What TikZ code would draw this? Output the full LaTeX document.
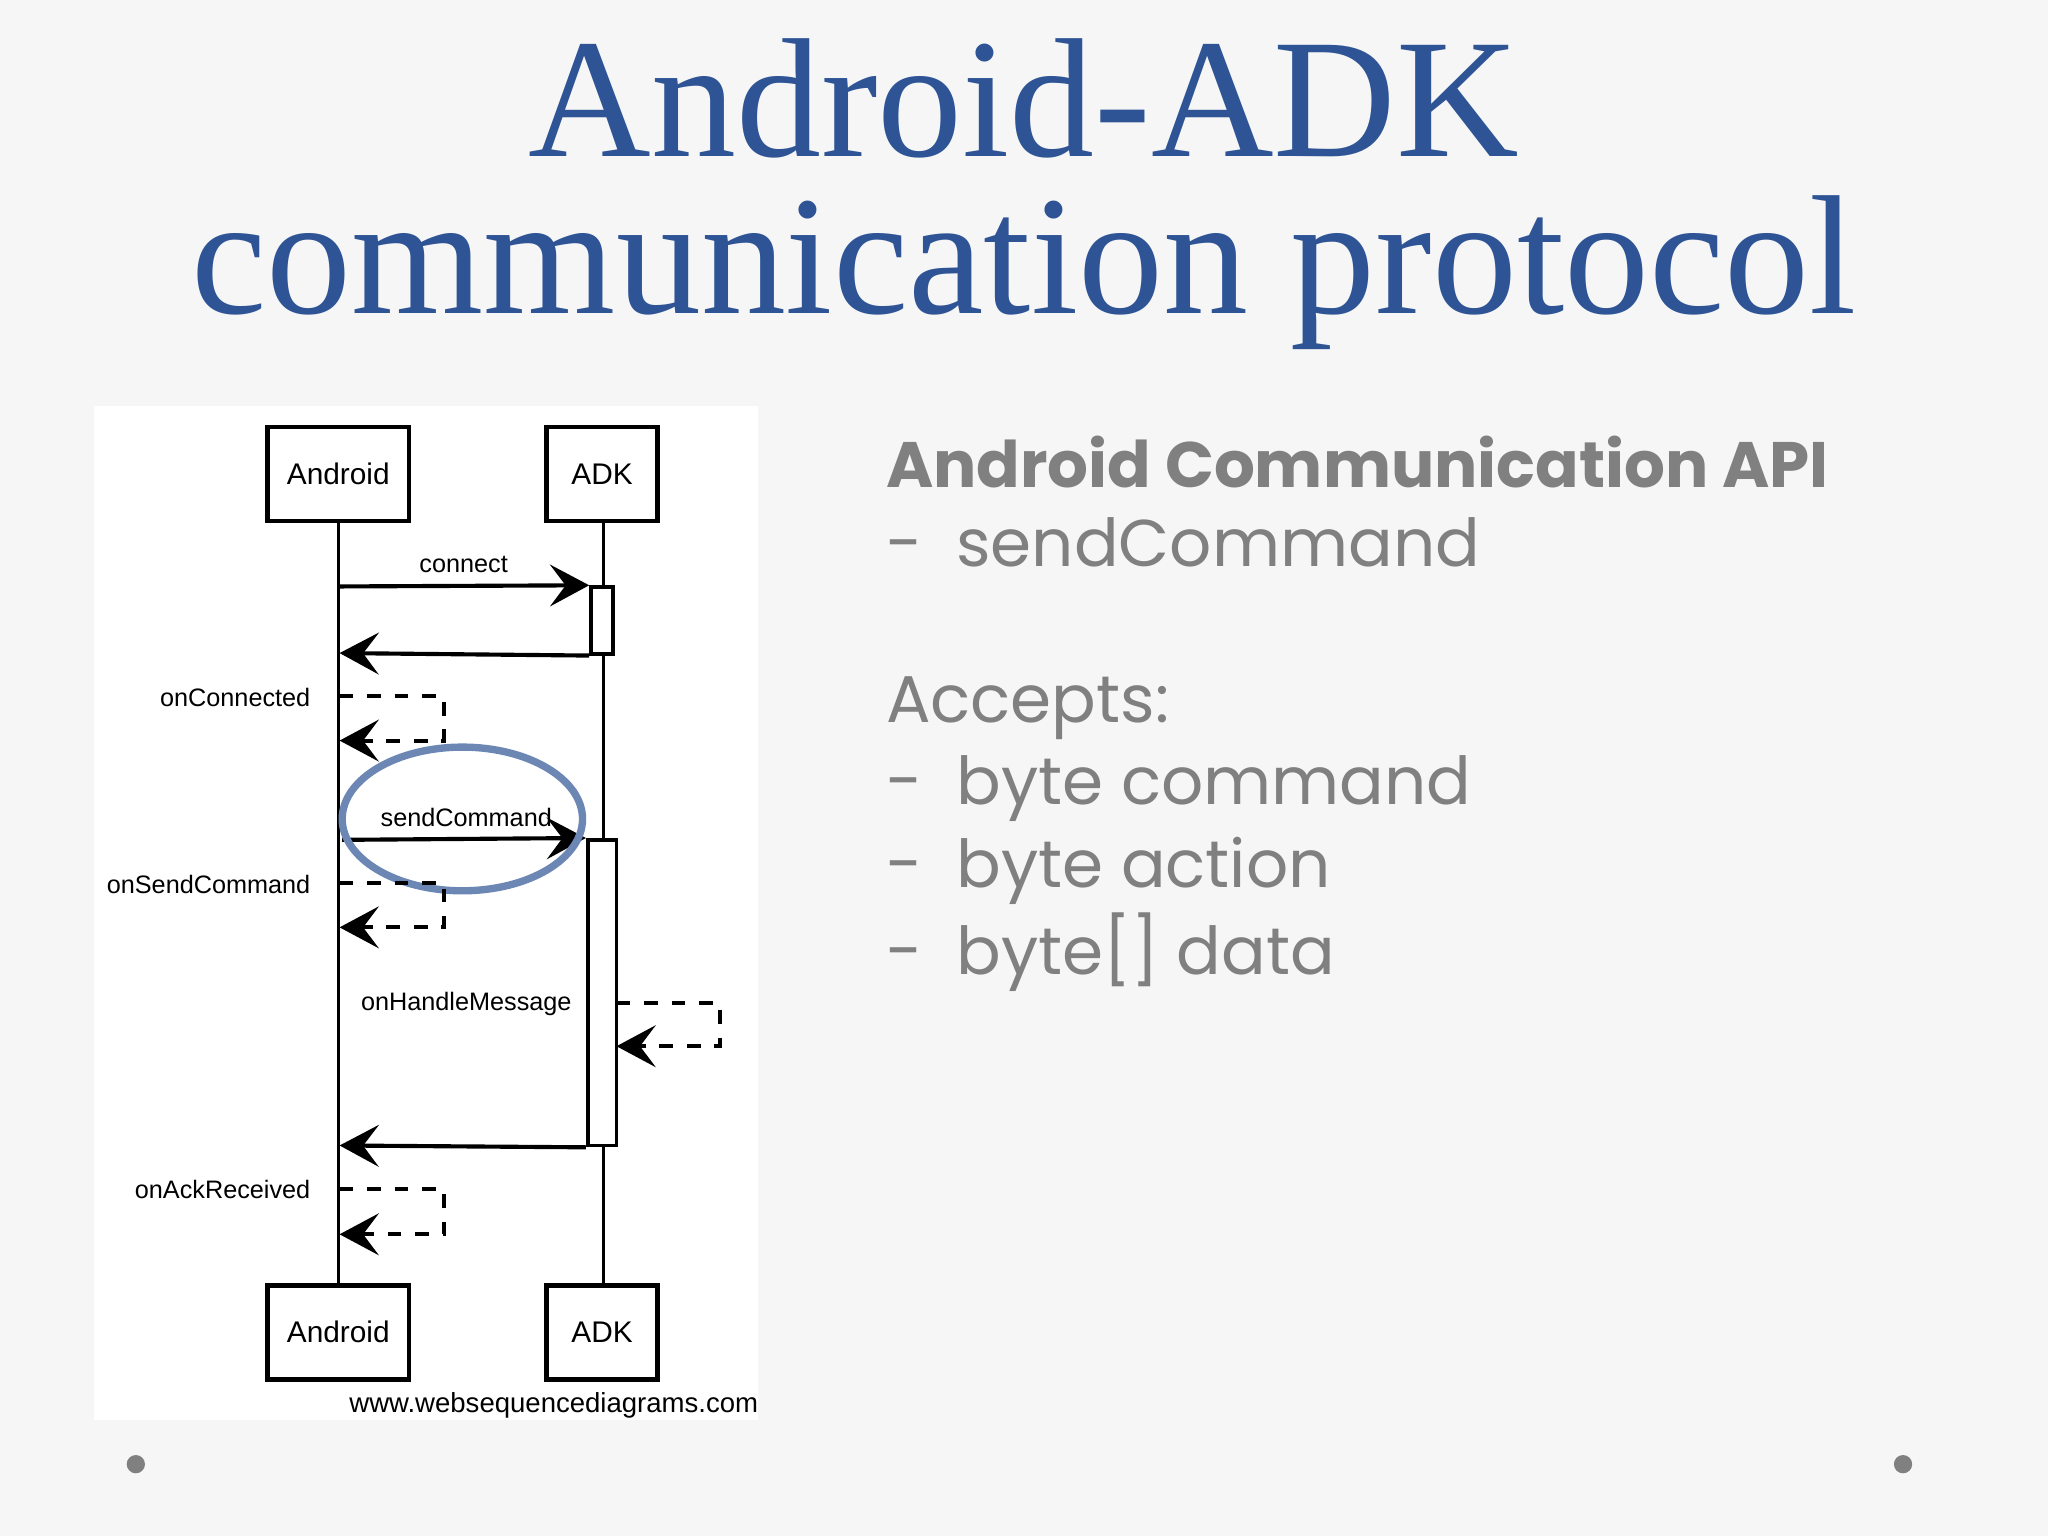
\documentclass[tikz,border=0pt]{standalone}
\usepackage{fontspec}
\setmainfont{Liberation Serif}
\newfontfamily\gfont{Poppins}
\newfontfamily\hfont{Liberation Sans}
\usetikzlibrary{arrows.meta,shadows}
\definecolor{titleblue}{RGB}{46,84,150}
\definecolor{txtgray}{RGB}{128,128,128}
\begin{document}
\begin{tikzpicture}[x=0.1mm,y=-0.1mm,
  actor/.style={draw,line width=1pt,minimum width=#1,minimum height=7.2mm,inner sep=1pt,font=\hfont\fontsize{6.5}{8}\selectfont},
  msg/.style={line width=0.9pt,-{Stealth[length=3mm,width=3.2mm,inset=1.2mm]}},
  dmsg/.style={msg,dashed},
  lab/.style={font=\hfont\fontsize{5.5}{7}\selectfont},
  ttl/.style={titleblue,inner sep=0pt,font=\fontsize{37}{40}\selectfont},
  rt/.style={anchor=west,text=txtgray,font=\gfont\fontsize{14.4}{17}\selectfont}]
\fill[gray!7] (0,0) rectangle (1568,1176);
\useasboundingbox (0,0) rectangle (1568,1176);
\node[ttl,anchor=base] (t1) at (784,120) {Android-ADK};
\node[ttl,anchor=base] (t2) at (784,240) {communication protocol};
\fill[white] (72,311) rectangle (580,1087);
% lifelines
\coordinate (aT) at (259,399); \coordinate (aB) at (259,984);
\coordinate (dT) at (462,399); \coordinate (dB) at (462,984);
\draw[line width=0.7pt] (aT)--(aB) (dT)--(dB);
\node[actor=10.8mm,fill=white] (a1) at (259,363) {Android};
\node[actor=8.5mm,fill=white] (d1) at (461,363) {ADK};
\node[actor=10.8mm,fill=white] (a2) at (259,1020) {Android};
\node[actor=8.5mm,fill=white] (d2) at (461,1020) {ADK};
\node[draw,fill=white,line width=0.8pt,minimum width=1.7mm,minimum height=5.1mm,inner sep=0] (act1) at (461,475) {};
\node[draw,fill=white,line width=0.8pt,minimum width=2.2mm,minimum height=23.4mm,inner sep=0] (act2) at (461,760) {};
\coordinate (c1) at (259,449); \draw[msg] (c1) -- (act1.north west);
\node[lab] (lc) at (355,432) {connect};
\coordinate (r1) at (260,500); \draw[msg] (act1.south west) -- (r1);
% onConnected
\coordinate (o1) at (260,533); \coordinate (o1b) at (260,567);
\draw[dmsg] (o1) -- (340,533) -- (340,567) -- (o1b);
\node[lab,anchor=east] (lo1) at (250,534) {onConnected};
% sendCommand
\coordinate (s1) at (262,643); \draw[msg] (s1) -- (act2.north west);
\node[lab] (ls) at (357,626) {sendCommand};
\draw[color=titleblue!70,line width=1.6pt] (354,627) ellipse [x radius=92, y radius=55];
\coordinate (o2) at (260,676); \coordinate (o2b) at (260,710);
\draw[dmsg] (o2) -- (340,676) -- (340,710) -- (o2b);
\node[lab,anchor=east] (lo2) at (250,677) {onSendCommand};
\coordinate (h1) at (472,768); \coordinate (h1b) at (472,801);
\draw[dmsg] (h1) -- (551,768) -- (551,801) -- (h1b);
\node[lab] (lh) at (357,769) {onHandleMessage};
\coordinate (r2) at (260,877); \draw[msg] (act2.south west) -- (r2);
\coordinate (o3) at (260,910); \coordinate (o3b) at (260,945);
\draw[dmsg] (o3) -- (340,910) -- (340,945) -- (o3b);
\node[lab,anchor=east] (lo3) at (250,911) {onAckReceived};
\node[font=\hfont\fontsize{6}{7}\selectfont] (cap) at (424,1076) {www.websequencediagrams.com};
% right text
\node[rt,font=\gfont\bfseries\fontsize{14}{17}\selectfont] (h) at (666,354) {Android Communication API};
\node[rt] (b1) at (666,415) {-\hspace{2.6mm}sendCommand};
\node[rt] (b2) at (666,542) {Accepts:};
\node[rt] (b3) at (666,604) {-\hspace{2.6mm}byte command};
\node[rt] (b4) at (666,667) {-\hspace{2.6mm}byte action};
\node[rt] (b5) at (666,729) {-\hspace{2.6mm}byte[] data};
\fill[gray] (104,1121) circle (7);
\fill[gray] (1457,1121) circle (7);
\end{tikzpicture}
\end{document}
